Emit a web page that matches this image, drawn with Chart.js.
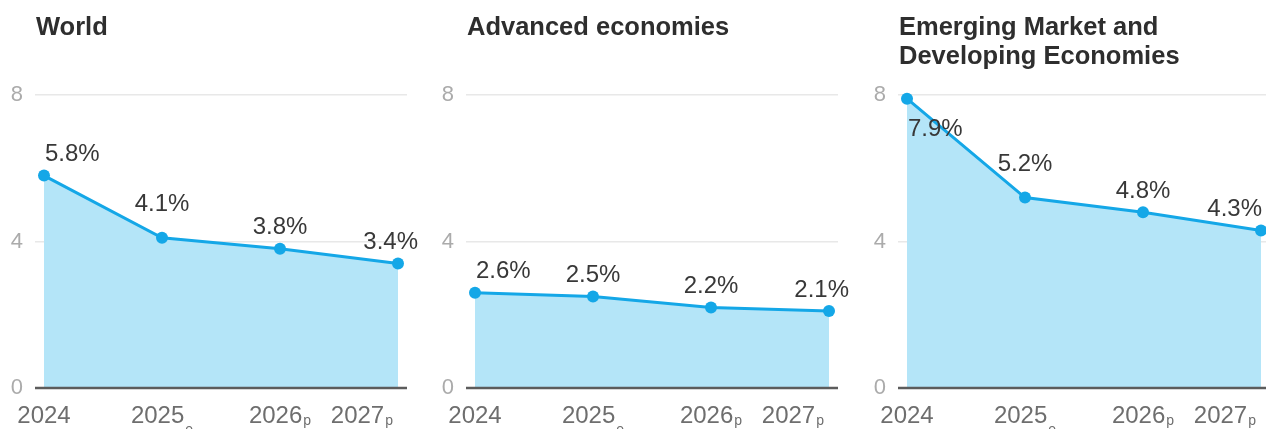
<!DOCTYPE html>
<html><head><meta charset="utf-8">
<script src="https://cdn.jsdelivr.net/npm/chart.js@4.4.1/dist/chart.umd.min.js"></script>
<style>
html,body{margin:0;padding:0;background:#fff;overflow:hidden;width:1266px;height:429px;}
.panel{position:absolute;top:0;width:431px;height:429px;}
.panel canvas{position:absolute;left:0;top:0;}
.title{position:absolute;left:36px;top:12px;font-family:"Liberation Sans",Arial,sans-serif;font-weight:bold;font-size:25.5px;line-height:29px;color:#2e2e2e;white-space:pre;}
</style></head><body>
<script>
const years = ["2024", "2025", "2026", "2027"];
const yearMarks = ["", "e", "p", "p"];
const titles = ["World", "Advanced economies", "Emerging Market and\nDeveloping Economies"];
const world = [5.8, 4.1, 3.8, 3.4];
const advanced = [2.6, 2.5, 2.2, 2.1];
const emerging = [7.9, 5.2, 4.8, 4.3];
const yTicks = [0, 4, 8];

const seriesList = [world, advanced, emerging];
const FONT = '"Liberation Sans", Arial, sans-serif';
const LINE = '#14a7e7';
const FILL = '#b4e5f8';
const subShift = { e: 11, p: 2 };

const overlay = {
  id: 'overlay',
  afterDatasetsDraw(chart) {
    const ctx = chart.ctx, a = chart.chartArea;
    const ys = chart.scales.y, xs = chart.scales.x;
    const y0 = ys.getPixelForValue(0);
    ctx.save();
    // zero line
    ctx.strokeStyle = '#5c5c5c';
    ctx.lineWidth = 2.5;
    ctx.beginPath(); ctx.moveTo(a.left, y0); ctx.lineTo(a.right, y0); ctx.stroke();
    // data labels
    const meta = chart.getDatasetMeta(0);
    const vals = chart.data.datasets[0].data;
    const pw = chart.canvas.dataset.limit ? +chart.canvas.dataset.limit : chart.width;
    ctx.font = '24px ' + FONT;
    ctx.fillStyle = '#383838';
    ctx.textBaseline = 'middle';
    ctx.textAlign = 'left';
    meta.data.forEach((pt, i) => {
      const txt = vals[i].y.toFixed(1) + '%';
      const w = ctx.measureText(txt).width;
      let left = pt.x - w / 2;
      left = Math.max(left, a.left + 10);
      left = Math.min(left, Math.min(a.right + 11, pw - 4) - w);
      let off = 21;
      if (i > 0 && pt.y - meta.data[i - 1].y > 40) off = 33;
      let ty = pt.y - off;
      if (ty - 12 < a.top) ty = pt.y + 31;
      ctx.fillText(txt, left, ty);
    });
    // x labels
    ctx.textBaseline = 'alphabetic';
    ctx.fillStyle = '#6e6e6e';
    years.forEach((yr, i) => {
      const px = xs.getPixelForValue(i);
      ctx.font = '24px ' + FONT;
      const w1 = ctx.measureText(yr).width;
      ctx.font = '14px ' + FONT;
      const mk = yearMarks[i];
      const w2 = mk ? ctx.measureText(mk).width + 1 : 0;
      const tw = w1 + w2;
      let left = px - tw / 2;
      left = Math.min(left, a.right - 14 - tw);
      left = Math.max(left, 0);
      ctx.font = '24px ' + FONT;
      ctx.fillText(yr, left, 423);
      if (mk) {
        ctx.font = '14px ' + FONT;
        ctx.fillText(mk, left + w1 + 1, 423 + subShift[mk]);
      }
    });
    ctx.restore();
  }
};

seriesList.forEach((vals, p) => {
  const panel = document.createElement('div');
  panel.className = 'panel';
  panel.style.left = (p * 431 + (p === 2 ? 1 : 0)) + 'px';
  const t = document.createElement('div');
  t.className = 'title';
  t.textContent = titles[p];
  const cv = document.createElement('canvas');
  cv.width = 431; cv.height = 429;
  if (p === 2) cv.dataset.limit = String(1266 - 863);
  panel.appendChild(cv);
  panel.appendChild(t);
  document.body.appendChild(panel);

  new Chart(cv, {
    type: 'line',
    data: {
      datasets: [{
        data: vals.map((v, i) => ({ x: i, y: v })),
        borderColor: LINE,
        borderWidth: 3,
        backgroundColor: FILL,
        fill: 'origin',
        pointRadius: 6,
        pointBackgroundColor: LINE,
        pointBorderWidth: 0,
        tension: 0,
        clip: false
      }]
    },
    options: {
      responsive: false,
      animation: false,
      devicePixelRatio: 1,
      layout: { padding: { left: 0, right: 24, top: 95, bottom: 41 } },
      plugins: { legend: { display: false }, tooltip: { enabled: false }, title: { display: false } },
      scales: {
        x: { type: 'linear', min: -0.0763, max: 3.0763, display: false },
        y: {
          min: 0, max: 8,
          afterFit: s => { s.width = 35; },
          afterBuildTicks: s => { s.ticks = yTicks.map(v => ({ value: v })); },
          ticks: { color: '#ababab', font: { family: FONT, size: 22 }, padding: 12 },
          grid: {
            drawTicks: false,
            color: c => (c.tick && c.tick.value === 0) ? 'rgba(0,0,0,0)' : '#e8e8e8',
            lineWidth: 1.5
          },
          border: { display: false }
        }
      }
    },
    plugins: [overlay]
  });
});
</script>
</body></html>
